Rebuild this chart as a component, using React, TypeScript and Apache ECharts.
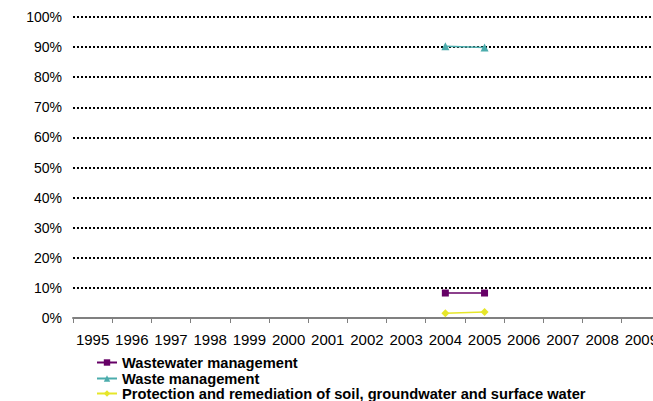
import React, { useEffect, useRef } from "react";
import * as echarts from "echarts";

const years = ["1995","1996","1997","1998","1999","2000","2001","2002","2003","2004","2005","2006","2007","2008","2009"];
const wastewater = [null,null,null,null,null,null,null,null,null,8.3,8.3,null,null,null,null];
const waste = [null,null,null,null,null,null,null,null,null,90.3,89.9,null,null,null,null];
const protection = [null,null,null,null,null,null,null,null,null,1.6,2.0,null,null,null,null];

const seriesNames = [
  "Wastewater management",
  "Waste management",
  "Protection and remediation of soil, groundwater and surface water",
];
const colors = ["#660066", "#4bacac", "#e6e62a"];

export default function App() {
  const ref = useRef<HTMLDivElement>(null);
  useEffect(() => {
    const chart = echarts.init(ref.current!, null, { renderer: "svg" });
    const font = "Liberation Sans, Arial, sans-serif";
    const legendTops = [355, 371, 386];
    chart.setOption({
      animation: false,
      backgroundColor: "#ffffff",
      grid: { left: 73, right: 0, top: 17, bottom: 83, containLabel: false },
      legend: seriesNames.map((n, i) => ({
        orient: "vertical",
        left: 96,
        top: legendTops[i],
        padding: 0,
        itemGap: 0,
        itemWidth: 20,
        itemHeight: 8,
        textStyle: { fontFamily: font, fontSize: 14.7, lineHeight: 15, fontWeight: "bold", color: "#000" },
        data: [n],
      })),
      xAxis: {
        type: "category",
        data: years,
        boundaryGap: true,
        axisLine: { show: true, lineStyle: { color: "#808080", width: 2 } },
        axisTick: { show: true, alignWithLabel: false, length: 5, lineStyle: { color: "#808080" } },
        axisLabel: { fontFamily: font, fontSize: 15, color: "#000", margin: 14, interval: 0 },
        splitLine: { show: false },
      },
      yAxis: {
        type: "value",
        min: 0,
        max: 100,
        interval: 10,
        axisLine: { show: false },
        axisTick: { show: false },
        axisLabel: { fontFamily: font, fontSize: 14, color: "#000", margin: 11, formatter: "{value}%" },
        splitLine: { show: true, lineStyle: { color: "#000", width: 2, type: [2, 2] } },
      },
      series: [
        {
          name: seriesNames[0],
          type: "line",
          data: wastewater,
          symbol: "rect",
          symbolSize: 7,
          itemStyle: { color: colors[0] },
          lineStyle: { color: colors[0], width: 1.5 },
        },
        {
          name: seriesNames[1],
          type: "line",
          data: waste,
          symbol: "triangle",
          symbolSize: 8,
          itemStyle: { color: colors[1] },
          lineStyle: { color: colors[1], width: 1.5 },
        },
        {
          name: seriesNames[2],
          type: "line",
          data: protection,
          symbol: "diamond",
          symbolSize: 8,
          itemStyle: { color: colors[2] },
          lineStyle: { color: colors[2], width: 1.5 },
        },
      ],
    });
    return () => chart.dispose();
  }, []);
  return (
    <div style={{ position: "absolute", left: 0, top: 0, width: 653, height: 401, overflow: "hidden" }}>
      <div ref={ref} style={{ width: 661, height: 401 }} />
    </div>
  );
}
